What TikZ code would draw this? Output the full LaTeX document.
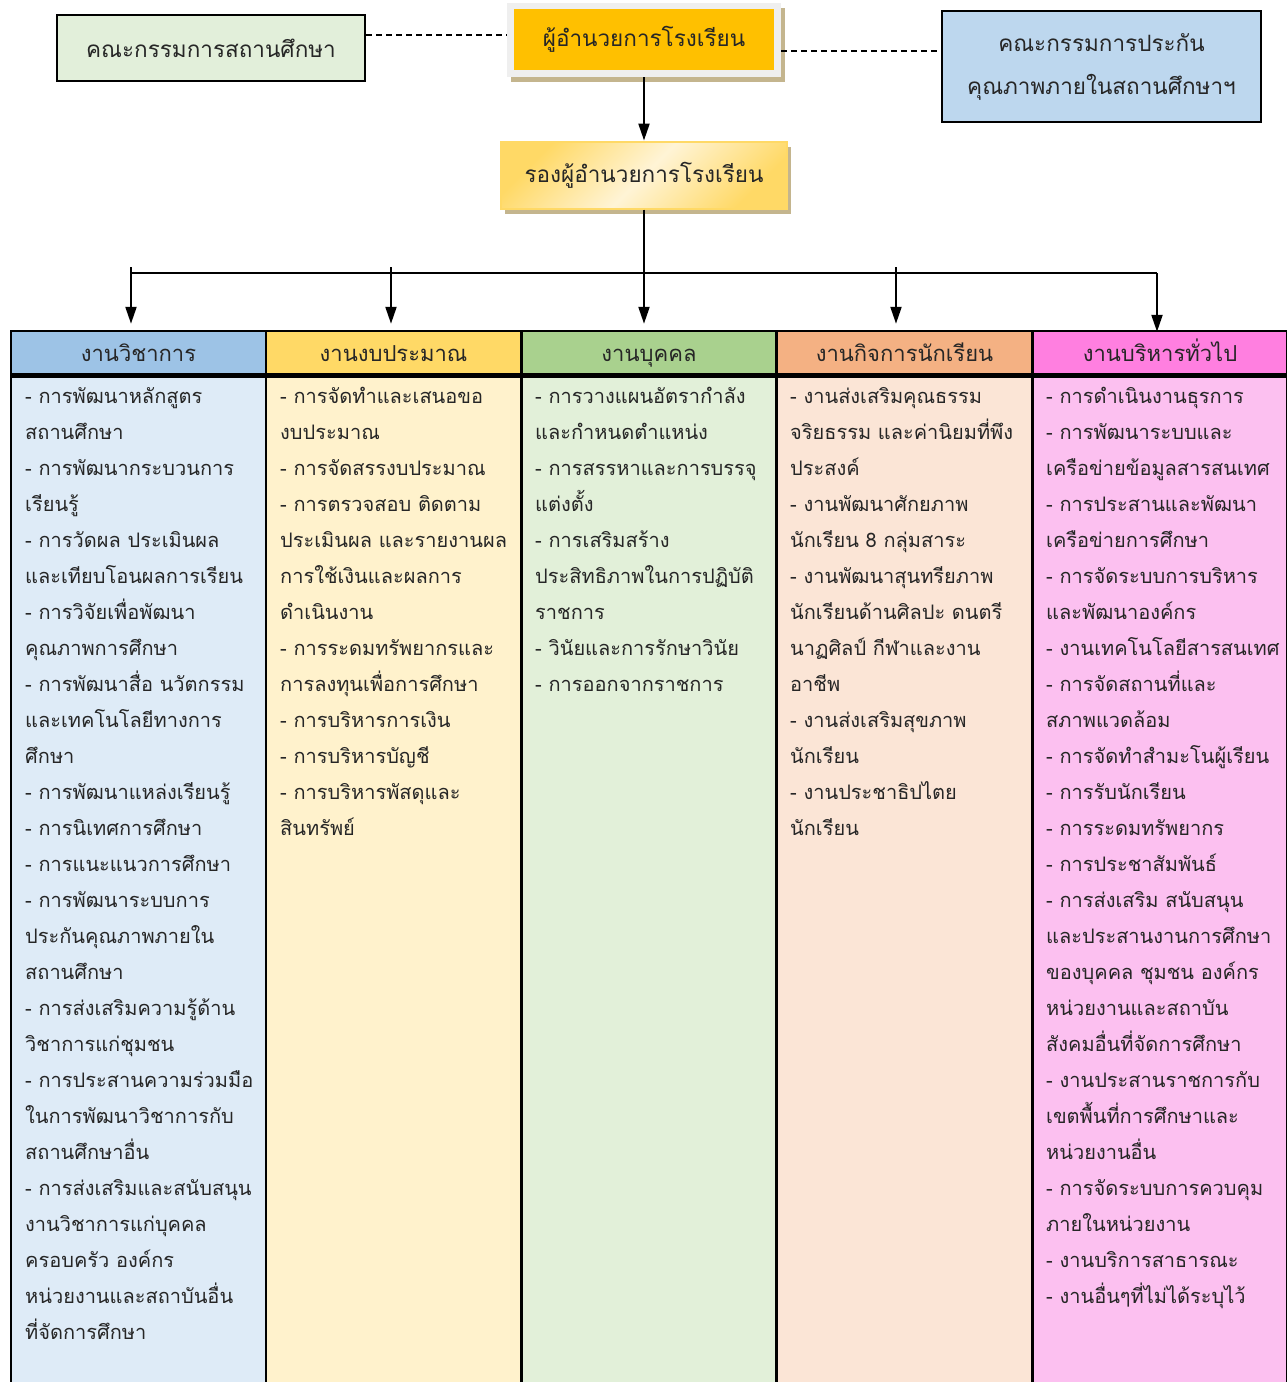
\documentclass[tikz,border=0pt]{standalone}
\usepackage{fontspec}
\setmainfont[Script=Thai]{Loma}
\usetikzlibrary{arrows.meta,shadows}
\definecolor{boardgreen}{HTML}{E2EFDA}
\definecolor{qualblue}{HTML}{BDD7EE}
\definecolor{dirorange}{HTML}{FFC000}
\definecolor{framegray}{HTML}{EFEFEF}
\definecolor{shadowtan}{HTML}{C4B58E}
\definecolor{depgold}{HTML}{FFD966}
\definecolor{deplight}{HTML}{FFF4D6}
\definecolor{hblue}{HTML}{9DC3E6}
\definecolor{hyellow}{HTML}{FFD966}
\definecolor{hgreen}{HTML}{A9D18E}
\definecolor{horange}{HTML}{F4B183}
\definecolor{hpink}{HTML}{FF7FE0}
\definecolor{bblue}{HTML}{DEEBF7}
\definecolor{byellow}{HTML}{FFF2CC}
\definecolor{bgreen}{HTML}{E2F0D9}
\definecolor{borange}{HTML}{FBE5D6}
\definecolor{bpink}{HTML}{FCC0F0}
\begin{document}
\begin{tikzpicture}[x=1pt,y=-1pt,
    every node/.style={font=\fontsize{20}{36}\selectfont, text=black!85},
    bigtext/.style={font=\fontsize{22.5}{43}\selectfont},
    tanshadow/.style={general shadow={fill=shadowtan, shadow xshift=4pt, shadow yshift=-5pt}},
    sidebox/.style={draw=black, line width=2pt, align=center, inner sep=0pt, bigtext},
    head/.style={draw=black, line width=2.5pt, minimum width=255, minimum height=43, inner sep=0pt,
      font=\fontsize{22}{26}\selectfont, text height=20pt, text depth=2pt},
    body/.style={draw=black, line width=2.5pt, minimum width=255, minimum height=1016, inner sep=0pt, anchor=north},
    item/.style={anchor=north west, align=left, inner sep=0pt},
    arr/.style={line width=2.2pt, -{Triangle[length=17pt,width=11pt]}},
    link/.style={line width=2pt, dash pattern=on 6pt off 4pt}]
  \useasboundingbox (0,0) rectangle (1286,1382);

  % top row
  \node[sidebox, fill=boardgreen, minimum width=308, minimum height=66] (board) at (211,48) {คณะกรรมการสถานศึกษา};
  \node[tanshadow, fill=framegray, minimum width=274, minimum height=74, inner sep=0pt] (dirframe) at (644,40) {};
  \node[bigtext, fill=dirorange, minimum width=260, minimum height=61, inner sep=0pt] (director) at (644,39) {ผู้อำนวยการโรงเรียน};
  \node[sidebox, fill=qualblue, minimum width=319, minimum height=111] (quality) at (1101.5,66.5) {คณะกรรมการประกัน\\คุณภาพภายในสถานศึกษาฯ};

  \coordinate (dl) at ([yshift=5pt]dirframe.west);
  \coordinate (dr) at ([yshift=-11pt]dirframe.east);
  \draw[link] (board.east |- dl) -- (dl);
  \draw[link] (dr) -- (dr -| quality.west);

  % deputy
  \node[tanshadow, bigtext, draw=depgold, line width=2pt, left color=depgold, right color=depgold, middle color=deplight, shading angle=45,
    minimum width=286, minimum height=67, inner sep=0pt] (deputy) at (644,175) {รองผู้อำนวยการโรงเรียน};
  \draw[arr] (dirframe.south) -- (deputy.north);

  % columns
  \node[head, fill=hblue] (h1) at (138.5,352.5) {งานวิชาการ};
  \node[head, fill=hyellow] (h2) at (393.5,352.5) {งานงบประมาณ};
  \node[head, fill=hgreen] (h3) at (649,352.5) {งานบุคคล};
  \node[head, fill=horange] (h4) at (904.5,352.5) {งานกิจการนักเรียน};
  \node[head, fill=hpink] (h5) at (1160,352.5) {งานบริหารทั่วไป};
  \node[body, fill=bblue] (b1) at (h1.south) {};
  \node[body, fill=byellow] (b2) at (h2.south) {};
  \node[body, fill=bgreen] (b3) at (h3.south) {};
  \node[body, fill=borange] (b4) at (h4.south) {};
  \node[body, fill=bpink] (b5) at (h5.south) {};

  % connectors to the columns
  \coordinate (bus) at (644,273);
  \coordinate (t1) at (131,267);
  \coordinate (t2) at (391,267);
  \coordinate (t4) at (896,267);
  \coordinate (t5) at (1157,273);
  \draw[line width=2.2pt] (t1 |- bus) -- (t5);
  \draw[arr] (deputy.south) -- (bus) -- ([yshift=6pt]bus |- h3.north);
  \draw[arr] (t1) -- ([yshift=6pt]t1 |- h1.north);
  \draw[arr] (t2) -- ([yshift=6pt]t2 |- h2.north);
  \draw[arr] (t4) -- ([yshift=6pt]t4 |- h4.north);
  \draw[arr] (t5) -- ([yshift=-2pt]t5 |- h5.north);

  \node[item] (l1) at (25,387) {- การพัฒนาหลักสูตร\\สถานศึกษา\\- การพัฒนากระบวนการ\\เรียนรู้\\- การวัดผล ประเมินผล\\และเทียบโอนผลการเรียน\\- การวิจัยเพื่อพัฒนา\\คุณภาพการศึกษา\\- การพัฒนาสื่อ นวัตกรรม\\และเทคโนโลยีทางการ\\ศึกษา\\- การพัฒนาแหล่งเรียนรู้\\- การนิเทศการศึกษา\\- การแนะแนวการศึกษา\\- การพัฒนาระบบการ\\ประกันคุณภาพภายใน\\สถานศึกษา\\- การส่งเสริมความรู้ด้าน\\วิชาการแก่ชุมชน\\- การประสานความร่วมมือ\\ในการพัฒนาวิชาการกับ\\สถานศึกษาอื่น\\- การส่งเสริมและสนับสนุน\\งานวิชาการแก่บุคคล\\ครอบครัว องค์กร\\หน่วยงานและสถาบันอื่น\\ที่จัดการศึกษา};
  \node[item] (l2) at (280,387) {- การจัดทำและเสนอขอ\\งบประมาณ\\- การจัดสรรงบประมาณ\\- การตรวจสอบ ติดตาม\\ประเมินผล และรายงานผล\\การใช้เงินและผลการ\\ดำเนินงาน\\- การระดมทรัพยากรและ\\การลงทุนเพื่อการศึกษา\\- การบริหารการเงิน\\- การบริหารบัญชี\\- การบริหารพัสดุและ\\สินทรัพย์};
  \node[item] (l3) at (535,387) {- การวางแผนอัตรากำลัง\\และกำหนดตำแหน่ง\\- การสรรหาและการบรรจุ\\แต่งตั้ง\\- การเสริมสร้าง\\ประสิทธิภาพในการปฏิบัติ\\ราชการ\\- วินัยและการรักษาวินัย\\- การออกจากราชการ};
  \node[item] (l4) at (790,387) {- งานส่งเสริมคุณธรรม\\จริยธรรม และค่านิยมที่พึง\\ประสงค์\\- งานพัฒนาศักยภาพ\\นักเรียน 8 กลุ่มสาระ\\- งานพัฒนาสุนทรียภาพ\\นักเรียนด้านศิลปะ ดนตรี\\นาฏศิลป์ กีฬาและงาน\\อาชีพ\\- งานส่งเสริมสุขภาพ\\นักเรียน\\- งานประชาธิปไตย\\นักเรียน};
  \node[item] (l5) at (1046,387) {- การดำเนินงานธุรการ\\- การพัฒนาระบบและ\\เครือข่ายข้อมูลสารสนเทศ\\- การประสานและพัฒนา\\เครือข่ายการศึกษา\\- การจัดระบบการบริหาร\\และพัฒนาองค์กร\\- งานเทคโนโลยีสารสนเทศ\\- การจัดสถานที่และ\\สภาพแวดล้อม\\- การจัดทำสำมะโนผู้เรียน\\- การรับนักเรียน\\- การระดมทรัพยากร\\- การประชาสัมพันธ์\\- การส่งเสริม สนับสนุน\\และประสานงานการศึกษา\\ของบุคคล ชุมชน องค์กร\\หน่วยงานและสถาบัน\\สังคมอื่นที่จัดการศึกษา\\- งานประสานราชการกับ\\เขตพื้นที่การศึกษาและ\\หน่วยงานอื่น\\- การจัดระบบการควบคุม\\ภายในหน่วยงาน\\- งานบริการสาธารณะ\\- งานอื่นๆที่ไม่ได้ระบุไว้};
\end{tikzpicture}
\end{document}
